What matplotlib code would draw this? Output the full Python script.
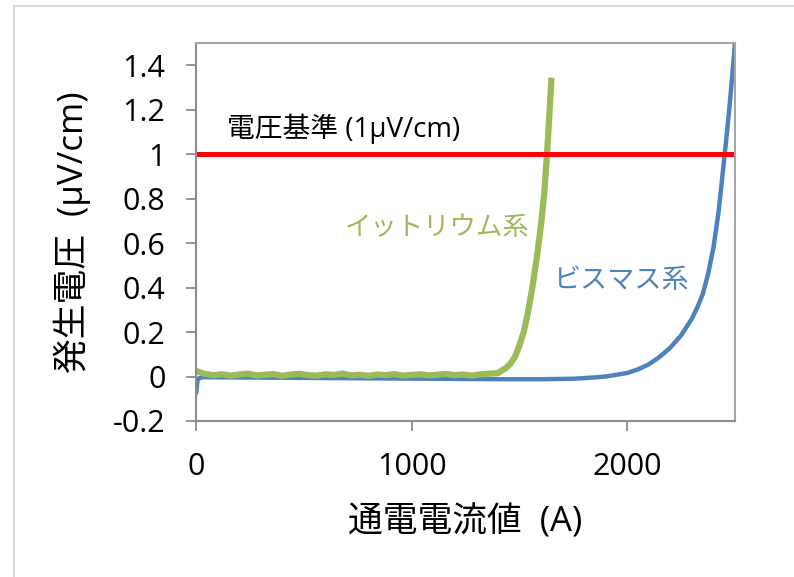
import matplotlib.pyplot as plt
from matplotlib.lines import Line2D
from matplotlib.ticker import FuncFormatter

plt.rcParams['font.family'] = ['Open Sans', 'Noto Sans CJK JP']
plt.rcParams['axes.unicode_minus'] = False

# Bi-based tape: current (A) vs voltage (uV/cm)
bi_current = [0, 8, 30, 200, 500, 800, 1100, 1400, 1600, 1750, 1850, 1900, 1950,
              2000, 2050, 2100, 2150, 2200, 2250, 2300, 2325, 2350, 2375, 2400,
              2412, 2425, 2437, 2450, 2462, 2475, 2487, 2500]
bi_voltage = [-0.08, -0.01, -0.003, -0.004, -0.006, -0.008, -0.01, -0.012, -0.012,
              -0.01, -0.004, 0.0, 0.008, 0.016, 0.032, 0.055, 0.088, 0.13, 0.185,
              0.26, 0.31, 0.37, 0.46, 0.58, 0.66, 0.75, 0.86, 0.98, 1.09, 1.22,
              1.35, 1.5]

# Y-based tape: noisy baseline, then the transition
y_current = list(range(0, 1401, 40)) + [1420, 1440, 1460, 1480, 1500, 1520, 1540,
                                         1560, 1580, 1600, 1615, 1628, 1638, 1648]
y_voltage = [0.025, 0.012, 0.006, 0.01, 0.004, 0.009, 0.013, 0.005, 0.008, 0.011,
             0.003, 0.009, 0.012, 0.006, 0.004, 0.01, 0.007, 0.013, 0.005, 0.008,
             0.003, 0.009, 0.006, 0.011, 0.004, 0.007, 0.01, 0.005, 0.008, 0.012,
             0.006, 0.009, 0.004, 0.01, 0.013, 0.015,
             0.028, 0.04, 0.06, 0.09, 0.14, 0.2, 0.29, 0.4, 0.53, 0.68, 0.82, 1.0,
             1.16, 1.33]

criterion = 1.0
x_ticks = [0, 1000, 2000]
y_ticks = [-0.2, 0, 0.2, 0.4, 0.6, 0.8, 1.0, 1.2, 1.4]

fig = plt.figure(figsize=(7.94, 5.77), dpi=100)
ax = fig.add_axes([196 / 794, 1 - 421 / 577, 539 / 794, 378 / 577])

ax.plot(bi_current, bi_voltage, color='#4f81bd', lw=3.2, solid_capstyle='butt')
ax.plot(y_current, y_voltage, color='#9bbb59', lw=4.5)
ax.axhline(criterion, color='#ff0000', lw=3.6)

ax.set_xlim(0, 2500)
ax.set_ylim(-0.2, 1.5)
ax.set_xticks(x_ticks)
ax.set_yticks(y_ticks)
ax.yaxis.set_major_formatter(FuncFormatter(lambda v, p: f"{v:g}"))
ax.tick_params(direction='out', length=7, width=1.3, color='#8c8c8c',
               labelsize=22, pad=15)

for s in ['left', 'bottom']:
    ax.spines[s].set_color('#8c8c8c')
    ax.spines[s].set_linewidth(1.5)
for s in ['top', 'right']:
    ax.spines[s].set_color('#a6a6a6')
    ax.spines[s].set_linewidth(1.5)

ax.set_xlabel('通電電流値  (A)', fontsize=25)
ax.set_ylabel('発生電圧  (μV/cm)', fontsize=25)
ax.xaxis.set_label_coords(0.499, -0.267)
ax.xaxis.label.set_va('center')
ax.yaxis.set_label_coords(-0.23, 0.5)
ax.yaxis.label.set_va('center')

ax.text(144, 1.115, '電圧基準 (1μV/cm)', fontsize=20, color='black', va='center')
ax.text(1545, 0.665, 'イットリウム系', fontsize=19, color='#9bbb59', ha='right',
        va='center')
ax.text(1656, 0.43, 'ビスマス系', fontsize=19.5, color='#4f81bd', va='center')

# light frame around the chart area
fig.add_artist(Line2D([14 / 794, 14 / 794, 1], [0, 1 - 5.5 / 577, 1 - 5.5 / 577],
                      transform=fig.transFigure, color='#d9d9d9', lw=1.5))

fig.savefig('out.png', dpi=100)
